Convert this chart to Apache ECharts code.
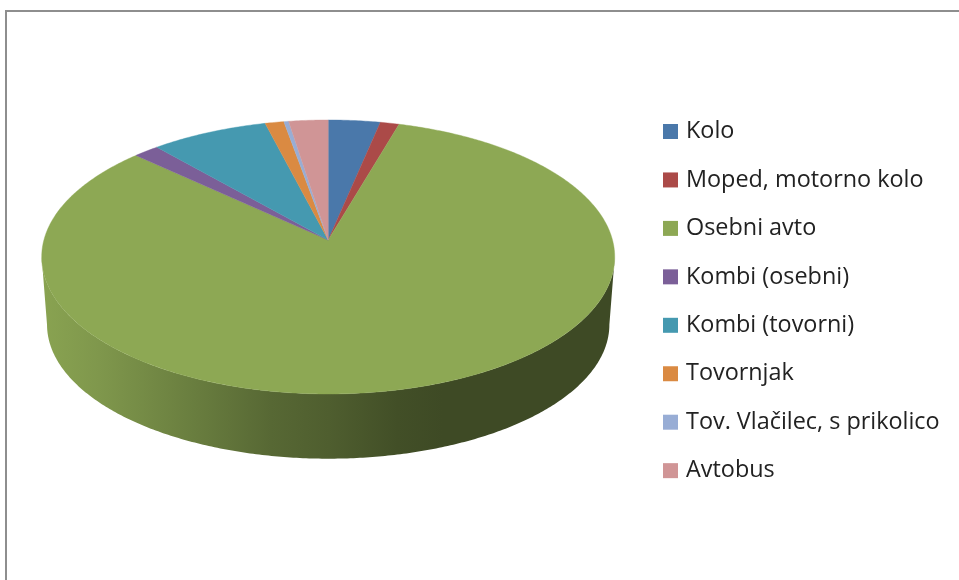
<!DOCTYPE html>
<html><head><meta charset="utf-8">
<style>html,body{margin:0;padding:0;background:#fff}#c{width:959px;height:580px;filter:blur(0.45px)}</style>
<script src="https://cdn.jsdelivr.net/npm/echarts@6/dist/echarts.min.js"></script>
</head><body><div id="c"></div>
<script>
const categories = ['Kolo','Moped, motorno kolo','Osebni avto','Kombi (osebni)','Kombi (tovorni)','Tovornjak','Tov. Vlačilec, s prikolico','Avtobus'];
const shares = [3.3,1.2,82.4,1.65,7.45,1.2,0.3,2.5];
const colors = ['#4A78AA','#AB4A48','#8DA854','#7B5F98','#4599B0','#DA8A42','#98ADD5','#D09596'];

const total = shares.reduce((a,b)=>a+b,0);
// perspective disc projection
const top3d = {cx:328.2, cy:240, R:284.3, H:134.9, k:0.124};
const bot3d = {cx:328.2, cy:308, R:279, H:132, k:0.124};
function proj(g, a){
  const u=Math.sin(a), v=Math.cos(a), s=1/(1+g.k*v);
  return [g.cx+g.R*u*s, g.cy-g.H*v*s];
}
function shade(hex,f){
  const n=parseInt(hex.slice(1),16);
  return 'rgb('+[(n>>16)&255,(n>>8)&255,n&255].map(c=>Math.round(c*f)).join(',')+')';
}
function arc(g,a0,a1){
  const n=Math.max(2,Math.ceil(Math.abs(a1-a0)/0.01)), p=[];
  for(let i=0;i<=n;i++) p.push(proj(g,a0+(a1-a0)*i/n));
  return p;
}
const FRONT0=Math.PI*0.54, FRONT1=Math.PI*1.46;
const wallStops=[[0,.97],[.1,.9],[.25,.76],[.4,.62],[.5,.56],[.62,.47],[.7,.44],[1,.44]];
function makeRender(idx){
  const before=shares.slice(0,idx).reduce((a,b)=>a+b,0);
  return function(params,api){
    const a0=before/total*Math.PI*2, a1=a0+api.value(0)/total*Math.PI*2;
    const color=colors[idx], kids=[];
    const w0=Math.max(a0,FRONT0), w1=Math.min(a1,FRONT1);
    if(w1>w0){
      const pts=arc(top3d,w0,w1).concat(arc(bot3d,w1,w0));
      kids.push({type:'polygon',z2:1,shape:{points:pts},style:{
        fill:{type:'linear',x:42,y:0,x2:615,y2:0,global:true,
          colorStops:wallStops.map(s=>({offset:s[0],color:shade(color,s[1])}))}
      }});
    }
    kids.push({type:'polygon',z2:5,shape:{points:[[top3d.cx,top3d.cy]].concat(arc(top3d,a0,a1))},
      style:{fill:color,stroke:color,lineWidth:0.4}});
    return {type:'group',children:kids};
  };
}
const chart=echarts.init(document.getElementById('c'),null,{renderer:'canvas'});
chart.setOption({
  animation:false,
  backgroundColor:'#fff',
  legend:{
    orient:'vertical',left:663,top:120,icon:'rect',itemWidth:15,itemHeight:15,itemGap:25.45,
    selectedMode:false,padding:0,
    data:categories,
    textStyle:{fontFamily:'Open Sans',fontSize:23.4,color:'#222',padding:[0,0,0,3]}
  },
  graphic:[
    {type:'line',shape:{x1:6,y1:11,x2:959,y2:11},style:{stroke:'#8e8e8e',lineWidth:2},silent:true},
    {type:'line',shape:{x1:6,y1:10,x2:6,y2:580},style:{stroke:'#8e8e8e',lineWidth:2},silent:true}
  ],
  series:categories.map((name,i)=>({
    type:'custom',name,coordinateSystem:'none',silent:true,
    itemStyle:{color:colors[i]},
    renderItem:makeRender(i),
    data:[[shares[i]]]
  }))
});
</script></body></html>
